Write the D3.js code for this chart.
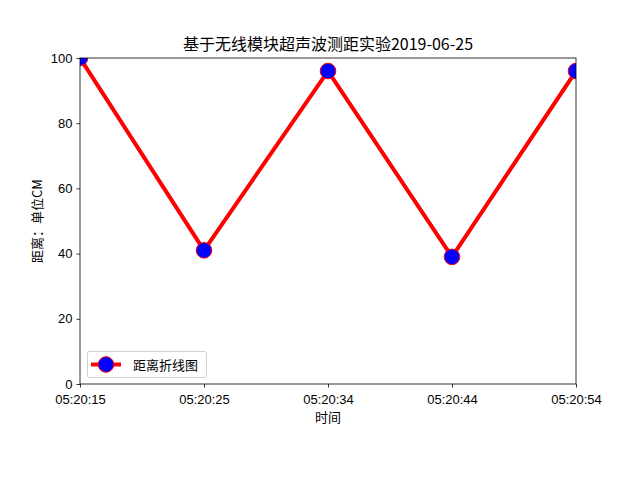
<!DOCTYPE html>
<html><head><meta charset="utf-8">
<script src="https://cdn.jsdelivr.net/npm/d3@7"></script>
<style>body{margin:0;background:#fff}svg{display:block}text{font-family:"Noto Sans CJK SC","DejaVu Sans",sans-serif;fill:#000}</style>
</head><body>
<script>
const times = ["05:20:15","05:20:25","05:20:34","05:20:44","05:20:54"];
const distances = [100, 41, 96, 39, 96];
const yTicks = [0, 20, 40, 60, 80, 100];
const title = "基于无线模块超声波测距实验2019-06-25";
const xLabel = "时间";
const yLabel = "距离：单位CM";
const legendLabel = "距离折线图";

const W = 640, H = 480;
const m = {left: 80, right: 576, top: 58, bottom: 384};
const svg = d3.select("body").append("svg").attr("width", W).attr("height", H);

const x = d3.scalePoint().domain(times).range([m.left, m.right]);
const y = d3.scaleLinear().domain([0, 100]).range([m.bottom, m.top]);

svg.append("defs").append("clipPath").attr("id", "clip")
  .append("rect").attr("x", m.left).attr("y", m.top)
  .attr("width", m.right - m.left).attr("height", m.bottom - m.top);

const data = times.map((t, i) => ({t, v: distances[i]}));
const g = svg.append("g").attr("clip-path", "url(#clip)");
g.append("path").datum(data)
  .attr("d", d3.line().x(d => x(d.t)).y(d => y(d.v)))
  .attr("fill", "none").attr("stroke", "#ff0000").attr("stroke-width", 4)
  .attr("stroke-linejoin", "round").attr("stroke-linecap", "square");
g.selectAll("circle").data(data).join("circle")
  .attr("cx", d => x(d.t)).attr("cy", d => y(d.v)).attr("r", 7.8)
  .attr("fill", "#0000ff").attr("stroke", "#ff0000").attr("stroke-width", 1);

const xAxis = svg.append("g").attr("transform", `translate(0,${m.bottom})`)
  .call(d3.axisBottom(x).tickSizeOuter(0).tickSize(3.5).tickPadding(7.5));
const yAxis = svg.append("g").attr("transform", `translate(${m.left},0)`)
  .call(d3.axisLeft(y).tickValues(yTicks).tickSizeOuter(0).tickSize(3.5).tickPadding(4));
[xAxis, yAxis].forEach(a => {
  a.select(".domain").remove();
  a.selectAll("text").style("font-size", "13px").style("font-family", '"Liberation Sans",Arial,sans-serif');
  a.selectAll("line").attr("stroke", "#000").attr("stroke-width", 0.8);
});

svg.append("rect").attr("x", m.left).attr("y", m.top)
  .attr("width", m.right - m.left).attr("height", m.bottom - m.top)
  .attr("fill", "none").attr("stroke", "#000").attr("stroke-width", 0.8);

svg.append("text").attr("x", (m.left + m.right) / 2).attr("y", 50)
  .attr("text-anchor", "middle").style("font-size", "16px").text(title);
svg.append("text").attr("x", (m.left + m.right) / 2).attr("y", 422)
  .attr("text-anchor", "middle").style("font-size", "13px").text(xLabel);
svg.append("text").attr("transform", `translate(42,${(m.top + m.bottom) / 2}) rotate(-90)`)
  .attr("text-anchor", "middle").style("font-size", "13px").text(yLabel);

const lg = svg.append("g");
lg.append("rect").attr("x", 87.5).attr("y", 351.5).attr("width", 119).attr("height", 26)
  .attr("rx", 2).attr("fill", "#fff").attr("fill-opacity", 0.8).attr("stroke", "#d0d0d0").attr("stroke-width", 1);
lg.append("line").attr("x1", 91).attr("x2", 121).attr("y1", 364.5).attr("y2", 364.5)
  .attr("stroke", "#ff0000").attr("stroke-width", 4);
lg.append("circle").attr("cx", 106).attr("cy", 364.5).attr("r", 7.8)
  .attr("fill", "#0000ff").attr("stroke", "#ff0000").attr("stroke-width", 1);
lg.append("text").attr("x", 133).attr("y", 369.5).style("font-size", "13px").text(legendLabel);
</script>
</body></html>
